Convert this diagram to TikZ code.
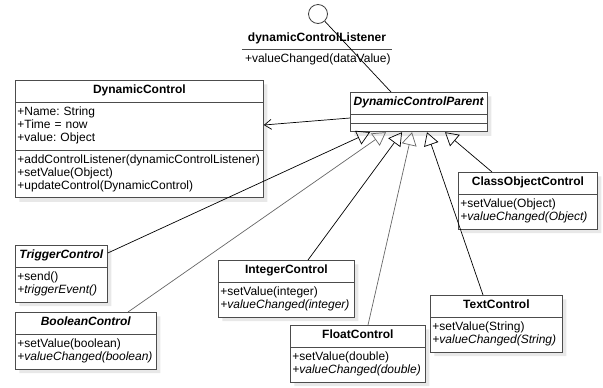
\documentclass[tikz,border=0pt]{standalone}
\usepackage{fontspec}
\setmainfont{Liberation Sans}
\usetikzlibrary{shapes.multipart,shadows,arrows.meta}
\pgfdeclarelayer{edgelayer}
\pgfdeclarelayer{nodelayer}
\pgfsetlayers{nodelayer,edgelayer,main}
\hyphenpenalty=10000
\exhyphenpenalty=10000
\frenchspacing
\tikzset{font=\fontsize{12bp}{13bp}\selectfont}
\tikzstyle{umlclass}=[rectangle split, rectangle split parts=3, draw=black!70, line width=0.8bp, fill=white, align=left, anchor=north west, inner xsep=2bp, inner ysep=4bp, rectangle split empty part height=1bp, rectangle split empty part depth=0bp, general shadow={fill=black!9, shadow xshift=4bp, shadow yshift=-4bp}]
\tikzstyle{umlsmall}=[umlclass, rectangle split parts=2]
\tikzstyle{lollipop}=[circle, draw=black!75, line width=0.8bp, minimum size=19bp, inner sep=0pt]
\tikzstyle{gen}=[line width=0.7bp, -{Triangle[open,length=13bp,width=15bp]}]
\tikzstyle{assoc}=[line width=0.7bp, -{Straight Barb[length=7bp,width=10bp]}]
\newcommand{\cname}[1]{\noindent\hbox to\hsize{\hfil\strut\textbf{#1}\hfil}}
\newcommand{\aname}[1]{\noindent\hbox to\hsize{\hfil\strut\textbf{\textit{#1}}\hfil}}

\begin{document}
\begin{tikzpicture}[x=1bp,y=-1bp]
	\useasboundingbox (0,0) rectangle (603,387);
	\begin{pgfonlayer}{nodelayer}
		\node [lollipop] (ifaceBall) at (318,14) {};
		\node [rectangle split, rectangle split parts=2, text width=144bp, align=left, inner xsep=3bp, inner ysep=4bp, anchor=north] (iface) at (317,28) {\cname{dynamicControlListener}\nodepart{two}\strut+valueChanged(dataValue)\strut};
		\node [umlclass, text width=244bp] (dynCtrl) at (15,80) {\cname{DynamicControl}\nodepart{two}\strut+Name: String\\+Time = now\\+value: Object\strut\nodepart{three}\strut+addControlListener(dynamicControlListener)\\+setValue(Object)\\+updateControl(DynamicControl)\strut};
		\node [umlclass, text width=133bp] (dcParent) at (350,92) {\aname{DynamicControlParent}\nodepart{two}\nodepart{three}};
		\node [umlsmall, text width=135bp] (classObj) at (458,172) {\cname{ClassObjectControl}\nodepart{two}\strut+setValue(Object)\\\textit{+valueChanged(Object)}\strut};
		\node [umlsmall, text width=88bp] (trigger) at (15,245) {\aname{TriggerControl}\nodepart{two}\strut+send()\\\textit{+triggerEvent()}\strut};
		\node [umlsmall, text width=137bp] (boolCtrl) at (15,312) {\aname{BooleanControl}\nodepart{two}\strut+setValue(boolean)\\\textit{+valueChanged(boolean)}\strut};
		\node [umlsmall, text width=132bp] (intCtrl) at (218,260) {\cname{IntegerControl}\nodepart{two}\strut+setValue(integer)\\\textit{+valueChanged(integer)}\strut};
		\node [umlsmall, text width=131bp] (floatCtrl) at (290,325) {\cname{FloatControl}\nodepart{two}\strut+setValue(double)\\\textit{+valueChanged(double)}\strut};
		\node [umlsmall, text width=128bp] (textCtrl) at (430,295) {\cname{TextControl}\nodepart{two}\strut+setValue(String)\\\textit{+valueChanged(String)}\strut};
	\end{pgfonlayer}
	\begin{pgfonlayer}{edgelayer}
		\draw [line width=0.8bp, black!70] (iface.text split west) to (iface.text split east);
		\draw [line width=0.7bp] (ifaceBall) to ([xshift=41bp]dcParent.north west);
		\draw [assoc] ([yshift=-26bp]dcParent.north west) to ([yshift=-45bp]dynCtrl.north east);
		\draw [gen] ([yshift=-8bp]trigger.north east) to ([xshift=20bp]dcParent.south west);
		\draw [gen, black!60] ([xshift=113bp]boolCtrl.north west) to ([xshift=36bp]dcParent.south west);
		\draw [gen] ([xshift=90bp]intCtrl.north west) to ([xshift=52bp]dcParent.south west);
		\draw [gen, black!60] ([xshift=78bp]floatCtrl.north west) to ([xshift=62bp]dcParent.south west);
		\draw [gen] ([xshift=53bp]textCtrl.north west) to ([xshift=77bp]dcParent.south west);
		\draw [gen] ([xshift=34bp]classObj.north west) to ([xshift=95bp]dcParent.south west);
	\end{pgfonlayer}
\end{tikzpicture}
\end{document}
